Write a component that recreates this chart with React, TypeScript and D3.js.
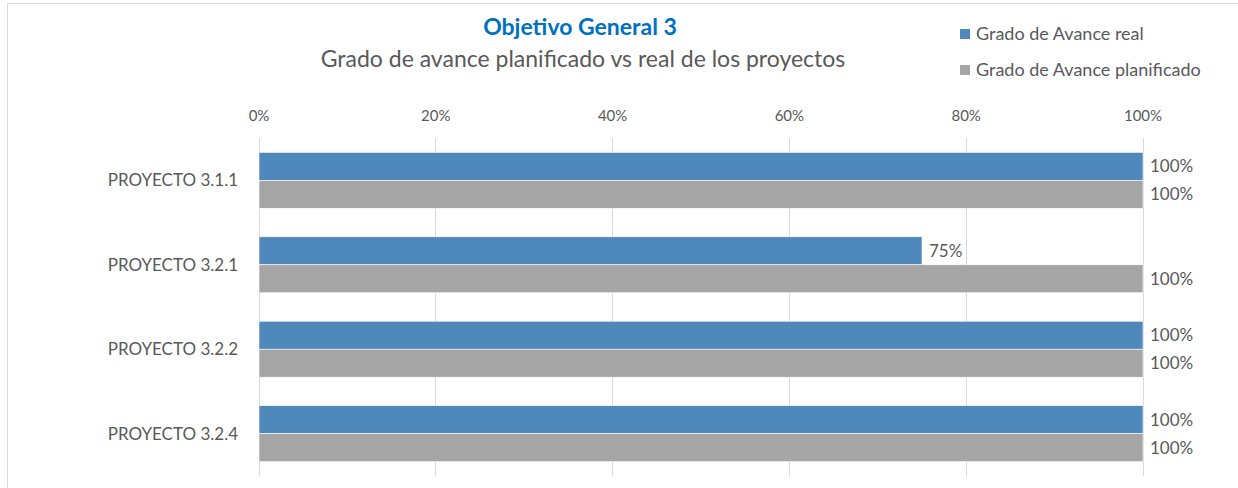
import React, { useEffect, useRef } from 'react';
import * as d3 from 'd3';

const categories = ['PROYECTO 3.1.1', 'PROYECTO 3.2.1', 'PROYECTO 3.2.2', 'PROYECTO 3.2.4'];
const realValues = [1, 0.75, 1, 1];
const plannedValues = [1, 1, 1, 1];
const seriesNames = ['Grado de Avance real', 'Grado de Avance planificado'];
const seriesColors = ['#4F88BB', '#A5A5A5'];
const tickValues = [0, 0.2, 0.4, 0.6, 0.8, 1];

const FONT = 'Lato, "Open Sans", sans-serif';

const App: React.FC = () => {
  const svgRef = useRef<SVGSVGElement>(null);

  useEffect(() => {
    if (!svgRef.current) return;
    const width = 1238;
    const height = 488;
    const svg = d3.select(svgRef.current);
    svg.selectAll('*').remove();
    svg.attr('width', width).attr('height', height);

    // chart frame
    svg.append('rect')
      .attr('x', 7.5).attr('y', 3.5)
      .attr('width', width + 10).attr('height', height + 10)
      .attr('fill', '#fff').attr('stroke', '#D9D9D9');

    const left = 259, right = 1143, top = 138, bottom = 476;

    const x = d3.scaleLinear().domain([0, 1]).range([left, right]);
    const y = d3.scaleBand<string>().domain(categories).range([top, bottom]).paddingInner(0.337).paddingOuter(0.17);
    const sub = d3.scaleBand<number>().domain([0, 1]).range([0, y.bandwidth()]);

    // gridlines
    svg.append('g').selectAll('line')
      .data(tickValues)
      .enter().append('line')
      .attr('x1', d => x(d)).attr('x2', d => x(d))
      .attr('y1', top).attr('y2', bottom)
      .attr('stroke', '#D9D9D9').attr('stroke-width', 1)
      .attr('shape-rendering', 'crispEdges');

    // tick labels
    svg.append('g').selectAll('text')
      .data(tickValues)
      .enter().append('text')
      .attr('x', d => x(d)).attr('y', 121)
      .attr('text-anchor', 'middle')
      .attr('font-family', FONT).attr('font-size', 15)
      .attr('fill', '#595959')
      .text(d => d3.format('.0%')(d));

    const series = [realValues, plannedValues];
    series.forEach((vals, si) => {
      const g = svg.append('g');
      g.selectAll('rect')
        .data(vals)
        .enter().append('rect')
        .attr('x', x(0))
        .attr('y', (d, i) => y(categories[i])! + sub(si)!)
        .attr('width', d => x(d) - x(0))
        .attr('height', sub.bandwidth())
        .attr('fill', seriesColors[si])
        .attr('stroke', '#fff').attr('stroke-width', 0.6);
      g.selectAll('text')
        .data(vals)
        .enter().append('text')
        .attr('x', d => x(d) + 7)
        .attr('y', (d, i) => y(categories[i])! + sub(si)! + sub.bandwidth() / 2 + 6)
        .attr('font-family', FONT).attr('font-size', 17)
        .attr('fill', '#595959')
        .text(d => d3.format('.0%')(d));
    });

    // category labels
    svg.append('g').selectAll('text')
      .data(categories)
      .enter().append('text')
      .attr('x', 238)
      .attr('y', d => y(d)! + y.bandwidth() / 2 + 6)
      .attr('text-anchor', 'end')
      .attr('font-family', FONT).attr('font-size', 17)
      .attr('fill', '#595959')
      .text(d => d);

    // titles
    svg.append('text')
      .attr('x', 580).attr('y', 35)
      .attr('text-anchor', 'middle')
      .attr('font-family', FONT).attr('font-size', 23).attr('font-weight', 'bold')
      .attr('fill', '#0070C0')
      .text('Objetivo General 3');
    svg.append('text')
      .attr('x', 583).attr('y', 67)
      .attr('text-anchor', 'middle')
      .attr('font-family', FONT).attr('font-size', 23)
      .attr('fill', '#595959')
      .text('Grado de avance planificado vs real de los proyectos');

    // legend
    const legend = svg.append('g');
    seriesNames.forEach((name, i) => {
      const ly = 34 + i * 36;
      legend.append('rect')
        .attr('x', 960).attr('y', ly - 5)
        .attr('width', 10).attr('height', 10)
        .attr('fill', seriesColors[i]);
      legend.append('text')
        .attr('x', 976).attr('y', ly + 6)
        .attr('font-family', FONT).attr('font-size', 18)
        .attr('fill', '#595959')
        .text(name);
    });
  }, []);

  return (
    <div style={{ position: 'absolute', left: 0, top: 0 }}>
      <svg ref={svgRef} style={{ display: 'block' }}></svg>
    </div>
  );
};

export default App;
